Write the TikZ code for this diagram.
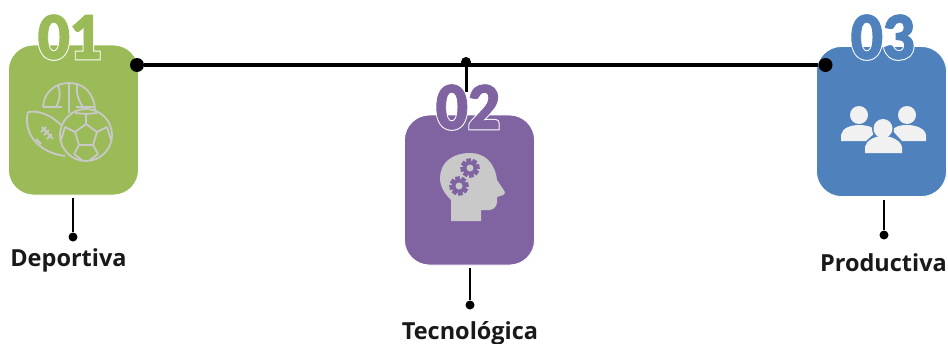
\documentclass[tikz,border=0pt]{standalone}
\usepackage{fontspec}
\setmainfont{Open Sans}[BoldFont=* Bold]
\newfontfamily\numfill[FakeBold=1.5]{Lato Black}
\newfontfamily\numedge[FakeBold=5]{Lato Black}
\definecolor{cgreen}{HTML}{9BBB59}
\definecolor{cpurple}{HTML}{8064A2}
\definecolor{cblue}{HTML}{4F81BD}
\definecolor{iconline}{HTML}{C9C9C9}
\definecolor{iconlight}{HTML}{F1F1F1}
\tikzset{
  card/.style={draw=white,line width=0.8pt,fill=#1,rounded corners=25pt,minimum width=130pt,minimum height=150pt,inner sep=0pt},
  bigdot/.style={circle,fill=black,inner sep=0pt,minimum size=#1},
  mainline/.style={draw=black,line width=4pt},
  thinline/.style={draw=black,line width=2pt},
  label/.style={font=\bfseries\fontsize{23.5}{26}\selectfont,text=black!90,inner sep=0pt},
  numfont/.style={inner sep=0pt,xscale=0.93},
  ballline/.style={draw=iconline,line width=1.8pt,line join=round},
}
\newcommand{\bignum}[4]{%
  \node[numfont,text=white] (#1e) at (#2) {\fontsize{60}{60}\selectfont\numedge #4};
  \node[numfont,text=#3] (#1) at (#2) {\fontsize{60}{60}\selectfont\numfill #4};
}
\newcommand{\gearicon}[2]{%
  \fill[cpurple] (#1) circle (7pt);
  \foreach \a in {0,45,...,315}{\fill[cpurple,rotate around={\a+10:(#1)}] ($(#1)+(-2.4pt,-9.6pt)$) rectangle ($(#1)+(2.4pt,-4pt)$);}
  \fill[iconline] (#1) circle (#2);
}
\usetikzlibrary{calc}
\begin{document}
\begin{tikzpicture}[x=1pt,y=-1pt]
\useasboundingbox (0,0) rectangle (948,343);
\node[card=cgreen] (c1) at (73.5,120) {};
\node[card=cpurple] (c2) at (469.5,190) {};
\node[card=cblue] (c3) at (881.5,121.5) {};
\node[bigdot=14pt] (d1) at (137,65) {};
\node[bigdot=14pt] (d3) at (825.5,65) {};
\node[bigdot=10pt] (dm) at (466,62) {};
\coordinate (mb) at (466,92);
\draw[mainline] (d1) -- (d3);
\draw[draw=black,line width=3pt] (dm) -- (mb);
\bignum{n1}{70,37}{cgreen}{01}
\bignum{n2}{468,107}{cpurple}{02}
\bignum{n3}{883,37}{cblue}{03}
\coordinate (t1) at (73,198);
\coordinate (t2) at (470,268);
\coordinate (t3) at (884,200);
\node[bigdot=9pt] (e1) at (73,237) {};
\node[bigdot=9pt] (e2) at (470,305) {};
\node[bigdot=9pt] (e3) at (884,235) {};
\draw[thinline] (t1) -- (e1);
\draw[thinline] (t2) -- (e2);
\draw[thinline] (t3) -- (e3);
\node[label] (l1) at (68.5,260) {Deportiva};
\node[label] (l2) at (470,333) {Tecnológica};
\node[label] (l3) at (883.5,263) {Productiva};
\begin{scope}[ballline]
 % basketball
 \draw (43,107) .. controls (44,92) and (55,83) .. (69,83) .. controls (83,83) and (94,92) .. (95,110);
 \draw (43,107) -- (62,107) (76,107) -- (95,107);
 \draw (69,83) -- (69,113);
 \draw (58,85) .. controls (61,92) and (60,100) .. (56,107);
 \draw (77,85) .. controls (76,92) and (78,100) .. (83,107);
 % football
 \draw (28,112) .. controls (23,130) and (35,152) .. (65,156);
 \draw (28,112) .. controls (40,110) and (52,116) .. (61,125);
 \draw (42,127) -- (53,139);
 \draw (41,132) -- (46,127) (44,135) -- (49,130) (47,139) -- (52,134);
 \draw (36,139) -- (41,144);
 % soccer
 \draw (86,135) circle (26);
 \draw (86,124) -- (97,132) -- (93,145) -- (79,145) -- (75,132) -- cycle;
 \draw (86,124) -- (86,114) (97,132) -- (107,127) (93,145) -- (98,154) (79,145) -- (74,154) (75,132) -- (65,127);
 \draw (75,113) -- (86,114) -- (97,113) (107,127) -- (111,140) (98,154) -- (90,160) (74,154) -- (82,160) (65,127) -- (61,140);
\end{scope}
% head
\fill[iconline] (451,221) -- (481,221) -- (481,210) -- (490,210)
  .. controls (496,209) and (498,204) .. (497,197) -- (503,195) .. controls (506,193) and (505,191) .. (503,189) -- (497,180)
  .. controls (495,163) and (485,153) .. (470,153)
  .. controls (452,153) and (440,163) .. (440,178)
  .. controls (440,187) and (445,194) .. (451,200) -- cycle;
\gearicon{470,168}{3.5pt}
\gearicon{459,186}{3.5pt}
% people
\fill[iconlight] (859,115) circle (9);
\fill[iconlight] (907,115) circle (9);
\fill[iconlight] (841,141) -- (841,135) .. controls (842,128) and (851,125) .. (859,125) .. controls (867,125) and (873,127) .. (877,131) -- (866,141) -- cycle;
\fill[iconlight] (926,141) -- (926,135) .. controls (925,128) and (915,125) .. (907,125) .. controls (899,125) and (895,127) .. (892,130) -- (902,141) -- cycle;
\fill[cblue] (883,129) circle (11);
\fill[iconlight] (883,128.5) circle (9.5);
\fill[iconlight] (865,153) -- (865,147) .. controls (866,141) and (874,136) .. (883,136) .. controls (892,136) and (901,141) .. (902,147) -- (902,153) -- cycle;
\end{tikzpicture}
\end{document}
